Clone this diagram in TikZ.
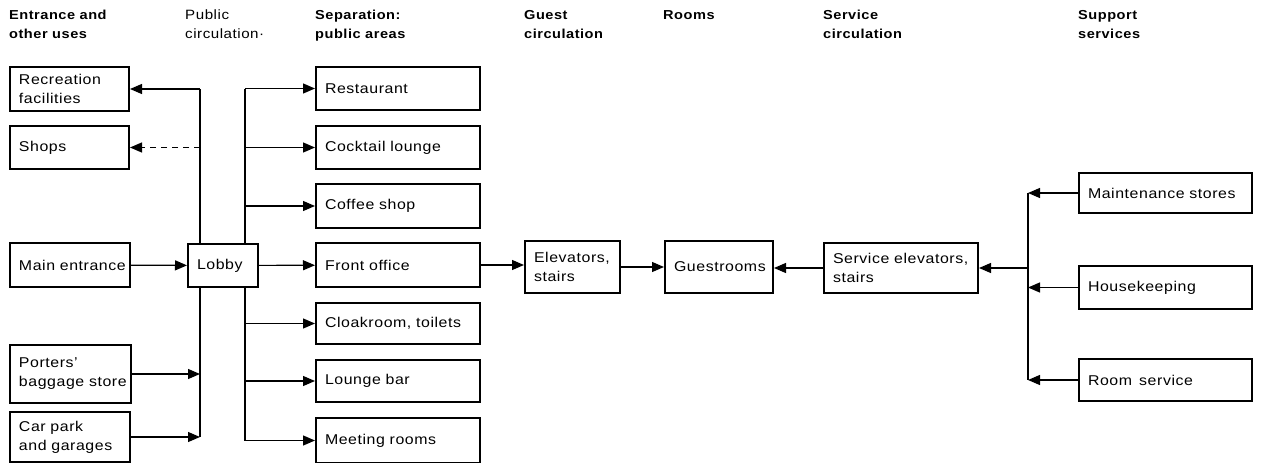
\documentclass[tikz,border=0pt]{standalone}
\usepackage{fontspec}
\setmainfont[FakeStretch=1.12,LetterSpace=4]{Liberation Sans}
\usetikzlibrary{arrows.meta}
\begin{document}
\begin{tikzpicture}[x=1pt,y=-1pt,
  box/.style={draw, line width=2pt, anchor=north west, inner xsep=9pt, inner ysep=0pt,
    align=left, font=\fontsize{14.2}{19}\selectfont},
  hdr/.style={anchor=north west, inner sep=0pt, align=left, font=\fontsize{13}{19}\selectfont\bfseries},
  hdrn/.style={hdr, font=\fontsize{13.5}{19}\selectfont},
  ln/.style={line width=1.2pt},
  arr/.style={line width=1.2pt, -{Triangle[length=12pt,width=10pt]}}]
\useasboundingbox (0,0) rectangle (1262,463);

% headers
\node[hdr]  (h1) at (9,10)    {Entrance and\\other uses};
\node[hdrn] (h2) at (185,10)  {Public\\circulation·};
\node[hdr]  (h3) at (315,10)  {Separation:\\public areas};
\node[hdr]  (h4) at (524,10)  {Guest\\circulation};
\node[hdr]  (h5) at (663,10)  {Rooms};
\node[hdr]  (h6) at (823,10)  {Service\\circulation};
\node[hdr]  (h7) at (1078,10) {Support\\services};

% left column
\node[box, text width=101, minimum height=44] (rec)     at (9,66)  {Recreation\\facilities};
\node[box, text width=101, minimum height=43] (shops)   at (9,125) {Shops};
\node[box, text width=102, minimum height=44] (main)    at (9,242) {\mbox{Main entrance}};
\node[box, text width=103, minimum height=58] (porters) at (9,344) {Porters'\\\mbox{baggage store}};
\node[box, text width=102, minimum height=50] (car)     at (9,411) {\mbox{Car park}\\\mbox{and garages}};

% lobby
\node[box, text width=52, minimum height=43] (lobby) at (187,243) {Lobby};

% public areas
\node[box, text width=146, minimum height=43] (rest)   at (315,66)  {Restaurant};
\node[box, text width=146, minimum height=43] (cock)   at (315,125) {\mbox{Cocktail lounge}};
\node[box, text width=146, minimum height=44] (coffee) at (315,183) {\mbox{Coffee shop}};
\node[box, text width=146, minimum height=44] (front)  at (315,242) {\mbox{Front office}};
\node[box, text width=146, minimum height=41] (cloak)  at (315,302) {\mbox{Cloakroom, toilets}};
\node[box, text width=146, minimum height=42] (lounge) at (315,359) {\mbox{Lounge bar}};
\node[box, text width=146, minimum height=45] (meet)   at (315,417) {\mbox{Meeting rooms}};

% circulation and rooms
\node[box, text width=77, minimum height=52]  (elev)  at (524,240) {Elevators,\\stairs};
\node[box, text width=90, minimum height=52]  (guest) at (664,240) {Guestrooms};
\node[box, text width=136, minimum height=50] (serv)  at (823,242) {\mbox{Service elevators,}\\stairs};

% support services
\node[box, text width=155, minimum height=40] (maint) at (1078,172) {\mbox{Maintenance stores}};
\node[box, text width=155, minimum height=43] (house) at (1078,265) {Housekeeping};
\node[box, text width=155, minimum height=42] (room)  at (1078,358) {\mbox{Room\enspace service}};

% bus x positions
\coordinate (PL) at (200,0);
\coordinate (PR) at (245,0);
\coordinate (SV) at (1028,0);

% public circulation (left)
\draw[ln] (rec.east -| PL) -- (lobby.north -| PL);
\draw[ln] (lobby.south -| PL) -- (car.east -| PL);
\draw[arr] (rec.east -| PL) -- (rec.east);
\draw[arr, dash pattern=on 6pt off 5pt] (shops.east -| PL) -- (shops.east);
\draw[arr] (main) -- (lobby);
\draw[arr] (porters.east) -- (porters.east -| PL);
\draw[arr] (car.east) -- (car.east -| PL);

% public areas (right)
\draw[ln] (lobby.north -| PR) -- (rest.west -| PR);
\draw[ln] (lobby.south -| PR) -- (meet.west -| PR);
\draw[arr] (rest.west -| PR) -- (rest.west);
\draw[arr] (cock.west -| PR) -- (cock.west);
\draw[arr] (coffee.west -| PR) -- (coffee.west);
\draw[arr] (lobby) -- (front);
\draw[arr] (cloak.west -| PR) -- (cloak.west);
\draw[arr] (lounge.west -| PR) -- (lounge.west);
\draw[arr] (meet.west -| PR) -- (meet.west);

% guest path
\draw[arr] (front.east) -- (front.east -| elev.west);
\draw[arr] (elev) -- (guest);
\draw[arr] (serv.west) -- (serv.west -| guest.east);

% service
\draw[ln] (maint.west -| SV) -- (room.west -| SV);
\draw[arr] (serv.east -| SV) -- (serv.east);
\draw[arr] (maint.west) -- (maint.west -| SV);
\draw[arr] (house.west) -- (house.west -| SV);
\draw[arr] (room.west) -- (room.west -| SV);
\end{tikzpicture}
\end{document}
